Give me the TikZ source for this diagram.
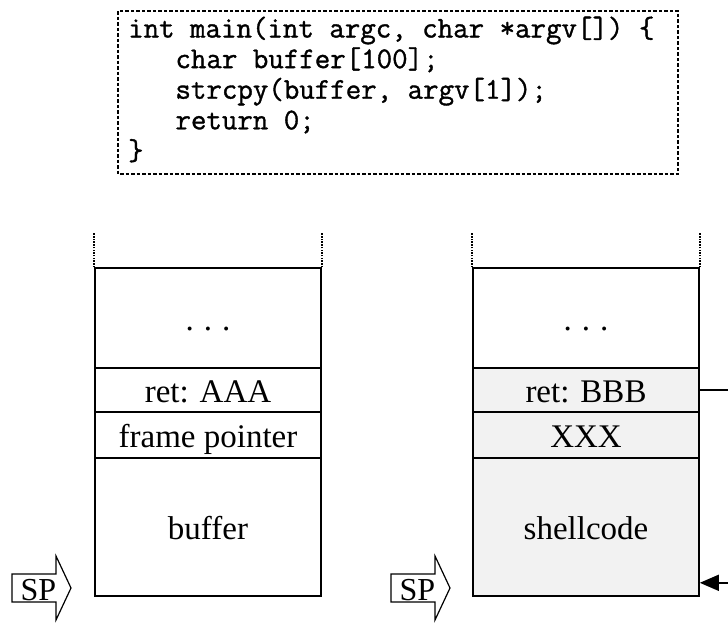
\documentclass[tikz,border=0pt]{standalone}
\usepackage{fontspec}
\setmainfont{Liberation Serif}
\newfontfamily\codefont[FakeBold=1.2]{Latin Modern Mono}
\usetikzlibrary{arrows.meta}

\tikzset{
  cell/.style={draw, rectangle, line width=1.6pt, minimum width=226pt,
    inner sep=0pt, font=\fontsize{33}{38}\selectfont,
    text height=24.5pt, text depth=0pt},
  hit/.style={cell, fill=gray!10},
  codeline/.style={anchor=base west, inner sep=0pt,
    font=\codefont\bfseries\fontsize{30.05}{34}\selectfont},
  codebox/.style={line width=1.3pt, dash pattern=on 3.5pt off 2pt},
  openend/.style={line width=1.6pt, dash pattern=on 1.5pt off 1.2pt},
  jump/.style={line width=1.6pt, -{Triangle[length=19pt,width=16pt]}},
  sp pointer/.pic={
    \draw[line width=1.2pt, line join=miter]
      (12,574) -- (56,574) -- (56,556) -- (71,588) -- (56,620)
      -- (56,602) -- (12,602) -- cycle;
    \node[anchor=base west, inner sep=0pt, font=\fontsize{32}{38}\selectfont]
      (-label) at (20.5,600) {SP};
  }
}

\begin{document}
\begin{tikzpicture}[x=1pt, y=-1pt]
\useasboundingbox (0,0) rectangle (728,629);
\clip (0,0) rectangle (728,629);

% source listing
\draw[codebox] (118,11) rectangle (678,174);
\node[codeline] (code1) at (128,37.5)   {int main(int argc, char *argv[]) \{};
\node[codeline] (code2) at (175.3,68.1) {char buffer[100];};
\node[codeline] (code3) at (175.3,98.7) {strcpy(buffer, argv[1]);};
\node[codeline] (code4) at (175.3,129.3){return 0;};
\node[codeline] (code5) at (128,159.9)  {\}};

% stack before the copy
\node[cell, minimum height=100pt] (ltop) at (208,318) {.\kern0.3em.\kern0.3em.};
\node[cell, minimum height=44pt]  (lret) at (208,390) {ret: AAA};
\node[cell, minimum height=46pt]  (lfp)  at (208,435) {frame pointer};
\node[cell, minimum height=138pt] (lbuf) at (208,527) {buffer};
\draw[openend] (ltop.north west) -- ++(0,-35);
\draw[openend] (ltop.north east) -- ++(0,-35);

% stack after the overflow
\node[cell, minimum height=100pt] (rtop)   at (586,318) {.\kern0.3em.\kern0.3em.};
\node[hit,  minimum height=44pt]  (rret)   at (586,390) {ret: BBB};
\node[hit,  minimum height=46pt]  (rfp)    at (586,435) {XXX};
\node[hit,  minimum height=138pt] (rshell) at (586,527) {shellcode};
\draw[openend] (rtop.north west) -- ++(0,-35);
\draw[openend] (rtop.north east) -- ++(0,-35);

% overwritten return address points back into the buffer
\coordinate (jmp) at (750,390);
\coordinate (entry) at ([yshift=14pt]rshell.south east);
\draw[jump] (rret.east) -- (jmp) |- (entry);

% stack pointers
\pic (spl) at (0,0) {sp pointer};
\pic (spr) at (379,0) {sp pointer};
\end{tikzpicture}
\end{document}
